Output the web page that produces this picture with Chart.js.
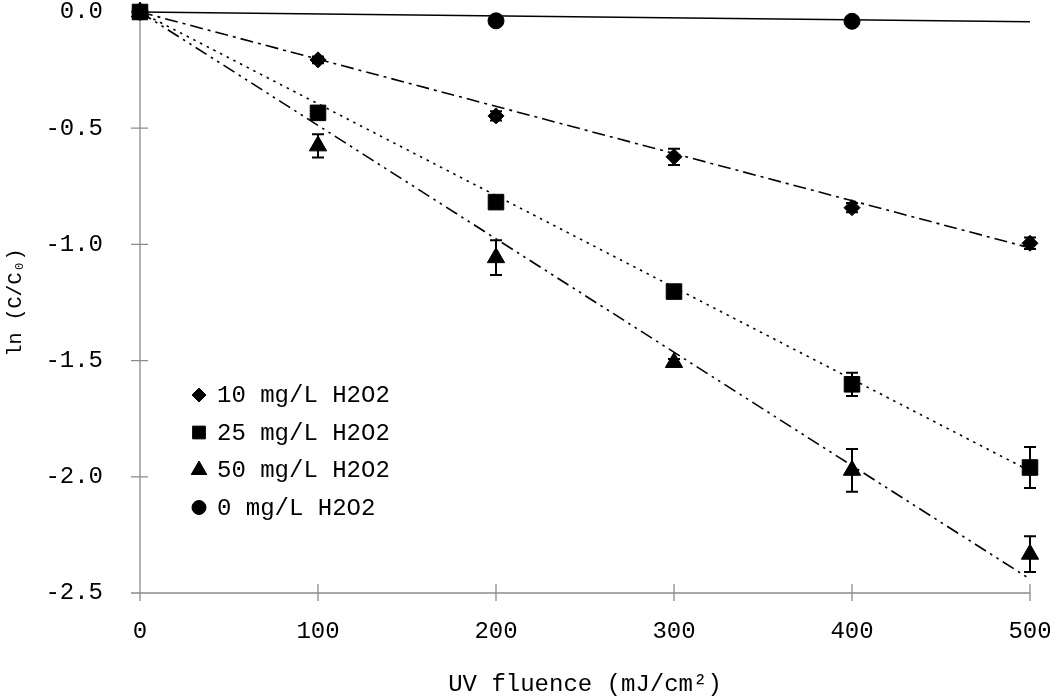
<!DOCTYPE html>
<html>
<head>
<meta charset="utf-8">
<script src="https://cdn.jsdelivr.net/npm/chart.js@4/dist/chart.umd.min.js"></script>
<style>
  html, body { margin: 0; padding: 0; background: #ffffff; }
  #wrap { width: 1050px; height: 699px; }
</style>
</head>
<body>
<div id="wrap"><canvas id="c" width="1050" height="699"></canvas></div>
<script>
// ---- data ----
const fluence = [0, 100, 200, 300, 400, 500];
const h10 = [0, -0.206, -0.447, -0.623, -0.842, -0.995];
const h10Err = [0, 0.015, 0.02, 0.035, 0.02, 0.025];
const h25 = [0, -0.434, -0.818, -1.203, -1.602, -1.96];
const h25Err = [0, 0.02, 0.015, 0.015, 0.05, 0.088];
const h50 = [0, -0.576, -1.057, -1.508, -1.972, -2.333];
const h50Err = [0, 0.05, 0.075, 0.015, 0.092, 0.077];
const fluence0 = [0, 200, 400];
const h0 = [0, -0.038, -0.04];
const h0Err = [0, 0.01, 0.02];
const trendX = [0, 500];
const trend10 = [0, -1.015];
const trend25 = [0, -1.975];
const trend50 = [0, -2.44];
const trend0 = [0, -0.042];
const seriesLabels = ['10 mg/L H2O2', '25 mg/L H2O2', '50 mg/L H2O2', '0 mg/L H2O2'];
const xTitle = 'UV fluence (mJ/cm\u00B2)';
const yTitle = 'ln (C/C\u2080)';

const FONT = '"Liberation Mono", "DejaVu Sans Mono", monospace';
const pts = (xs, ys) => xs.map((v, i) => ({ x: v, y: ys[i] }));

const markerDefs = [
  { pointStyle: 'rectRot', radius: 8, legendRadius: 7 },
  { pointStyle: 'rect', radius: 11, legendRadius: 9 },
  { pointStyle: 'triangle', radius: 10, legendRadius: 9 },
  { pointStyle: 'circle', radius: 8, legendRadius: 7 }
];

function pointSet(label, xs, ys, errs, idx, order) {
  const m = markerDefs[idx];
  return {
    label: label,
    data: pts(xs, ys),
    errors: errs,
    showLine: false,
    clip: false,
    pointStyle: m.pointStyle,
    pointRadius: m.radius,
    pointHoverRadius: m.radius,
    backgroundColor: '#000000',
    borderColor: '#000000',
    borderWidth: 1,
    order: order
  };
}
function trendSet(ys, dash) {
  return {
    label: '',
    data: pts(trendX, ys),
    showLine: true,
    clip: false,
    pointRadius: 0,
    borderColor: '#000000',
    borderWidth: 1.6,
    borderDash: dash,
    fill: false,
    order: 10
  };
}

const crossAxes = {
  id: 'crossAxes',
  beforeDatasetsDraw(chart) {
    const { ctx, scales: { x, y } } = chart;
    const x0 = x.getPixelForValue(0), x1 = x.getPixelForValue(500);
    const yTop = y.getPixelForValue(0), yBot = y.getPixelForValue(-2.5);
    ctx.save();
    ctx.strokeStyle = '#8c8c8c';
    ctx.lineWidth = 1.3;
    ctx.beginPath();
    ctx.moveTo(x0, yTop); ctx.lineTo(x0, yBot);
    ctx.moveTo(x0 - 8, yBot); ctx.lineTo(x1, yBot);
    y.ticks.forEach(t => {
      const py = y.getPixelForValue(t.value);
      ctx.moveTo(x0 - 9, py); ctx.lineTo(x0 + 8, py);
    });
    x.ticks.forEach(t => {
      const px = x.getPixelForValue(t.value);
      ctx.moveTo(px, yBot - 9); ctx.lineTo(px, yBot + 8);
    });
    ctx.stroke();
    ctx.restore();
  }
};

const errorBars = {
  id: 'errorBars',
  afterDatasetsDraw(chart) {
    const { ctx, scales: { y } } = chart;
    ctx.save();
    ctx.strokeStyle = '#000000';
    ctx.lineWidth = 2;
    chart.data.datasets.forEach((ds, i) => {
      if (!ds.errors) return;
      const meta = chart.getDatasetMeta(i);
      meta.data.forEach((el, j) => {
        const e = ds.errors[j];
        if (!e) return;
        const v = ds.data[j].y;
        const top = y.getPixelForValue(v + e), bot = y.getPixelForValue(v - e);
        const px = el.x;
        ctx.beginPath();
        ctx.moveTo(px, top); ctx.lineTo(px, bot);
        ctx.moveTo(px - 6, top); ctx.lineTo(px + 6, top);
        ctx.moveTo(px - 6, bot); ctx.lineTo(px + 6, bot);
        ctx.stroke();
      });
    });
    ctx.restore();
  }
};

const innerLegend = {
  id: 'innerLegend',
  afterDraw(chart) {
    const { ctx, chartArea } = chart;
    const mx = chartArea.left + 59, tx = chartArea.left + 77;
    const y0 = 395, dy = 37.5;
    ctx.save();
    ctx.fillStyle = '#000000';
    ctx.strokeStyle = '#000000';
    ctx.font = '24px ' + FONT;
    ctx.textBaseline = 'middle';
    ctx.textAlign = 'left';
    seriesLabels.forEach((lab, i) => {
      const py = y0 + i * dy;
      const m = markerDefs[i];
      Chart.helpers.drawPoint(ctx, { pointStyle: m.pointStyle, radius: m.legendRadius, rotation: 0, borderWidth: 1 }, mx, py);
      ctx.fillText(lab, tx, py + 1);
    });
    ctx.restore();
  }
};

new Chart(document.getElementById('c'), {
  type: 'scatter',
  data: {
    datasets: [
      pointSet(seriesLabels[0], fluence, h10, h10Err, 0, 3),
      pointSet(seriesLabels[1], fluence, h25, h25Err, 1, 0),
      pointSet(seriesLabels[2], fluence, h50, h50Err, 2, 2),
      pointSet(seriesLabels[3], fluence0, h0, h0Err, 3, 4),
      trendSet(trend10, [13, 5, 3, 5]),
      trendSet(trend25, [2.5, 5]),
      trendSet(trend50, [13, 5, 2.5, 5, 2.5, 5]),
      trendSet(trend0, [])
    ]
  },
  options: {
    responsive: false,
    animation: false,
    devicePixelRatio: 1,
    layout: { padding: { top: 11, right: 20, bottom: 0, left: 0 } },
    plugins: { legend: { display: false }, tooltip: { enabled: false } },
    scales: {
      x: {
        type: 'linear',
        min: 0, max: 500,
        grid: { display: false, drawTicks: false },
        border: { display: false },
        ticks: { stepSize: 100, color: '#000000', padding: 24, font: { family: FONT, size: 24 }, maxRotation: 0 },
        title: { display: true, text: xTitle, color: '#000000', font: { family: FONT, size: 24 }, padding: { top: 0, bottom: 0 } },
        afterFit(s) { s.height = 106; s.paddingLeft = 0; s.paddingRight = 0; }
      },
      y: {
        type: 'linear',
        min: -2.5, max: 0,
        grid: { display: false, drawTicks: false },
        border: { display: false },
        ticks: { stepSize: 0.5, color: '#000000', padding: 37, font: { family: FONT, size: 24 },
                 callback: v => v.toFixed(1) },
        title: { display: true, text: yTitle, color: '#000000', font: { family: FONT, size: 20 }, padding: { top: 4, bottom: 0 } },
        afterFit(s) { s.width = 140; s.paddingTop = 0; s.paddingBottom = 0; }
      }
    }
  },
  plugins: [crossAxes, errorBars, innerLegend]
});
</script>
</body>
</html>
